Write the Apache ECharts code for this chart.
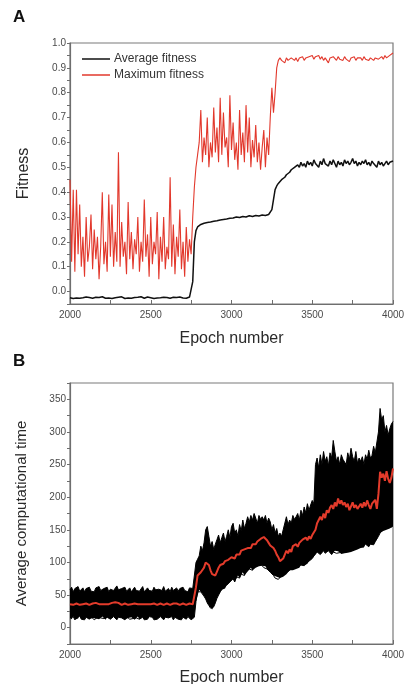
<!DOCTYPE html>
<html>
<head>
<meta charset="utf-8">
<script src="https://cdn.jsdelivr.net/npm/echarts@6/dist/echarts.min.js"></script>
<style>
html,body{margin:0;padding:0;background:#fff;}
#c{width:406px;height:684px;}
</style>
</head>
<body>
<div id="c"></div>
<script>
var epochs = [
2000,2010,2020,2030,2040,2050,2060,2070,2080,2090,
2100,2110,2120,2130,2140,2150,2160,2170,2180,2190,
2200,2210,2220,2230,2240,2250,2260,2270,2280,2290,
2300,2310,2320,2330,2340,2350,2360,2370,2380,2390,
2400,2410,2420,2430,2440,2450,2460,2470,2480,2490,
2500,2510,2520,2530,2540,2550,2560,2570,2580,2590,
2600,2610,2620,2630,2640,2650,2660,2670,2680,2690,
2700,2710,2720,2730,2740,2750,2760,2770,2780,2790,
2800,2810,2820,2830,2840,2850,2860,2870,2880,2890,
2900,2910,2920,2930,2940,2950,2960,2970,2980,2990,
3000,3010,3020,3030,3040,3050,3060,3070,3080,3090,
3100,3110,3120,3130,3140,3150,3160,3170,3180,3190,
3200,3210,3220,3230,3240,3250,3260,3270,3280,3290,
3300,3310,3320,3330,3340,3350,3360,3370,3380,3390,
3400,3410,3420,3430,3440,3450,3460,3470,3480,3490,
3500,3510,3520,3530,3540,3550,3560,3570,3580,3590,
3600,3610,3620,3630,3640,3650,3660,3670,3680,3690,
3700,3710,3720,3730,3740,3750,3760,3770,3780,3790,
3800,3810,3820,3830,3840,3850,3860,3870,3880,3890,
3900,3910,3920,3930,3940,3950,3960,3970,3980,3990,
4000];

var xTicks = [2000, 2500, 3000, 3500, 4000];
var fitnessTicks = [0.0, 0.1, 0.2, 0.3, 0.4, 0.5, 0.6, 0.7, 0.8, 0.9, 1.0];
var timeTicks = [0, 50, 100, 150, 200, 250, 300, 350];

var averageFitness = [
-0.025,-0.022,-0.028,-0.024,-0.026,-0.021,-0.027,-0.023,-0.025,-0.029,
-0.022,-0.026,-0.024,-0.020,-0.027,-0.025,-0.023,-0.028,-0.024,-0.026,
-0.021,-0.025,-0.027,-0.023,-0.026,-0.024,-0.028,-0.022,-0.025,-0.027,
-0.023,-0.026,-0.021,-0.025,-0.028,-0.024,-0.026,-0.022,-0.027,-0.025,
-0.024,-0.028,-0.023,-0.026,-0.021,-0.025,-0.027,-0.024,-0.022,-0.026,
-0.025,-0.023,-0.028,-0.024,-0.026,-0.021,-0.025,-0.027,-0.023,-0.026,
-0.024,-0.022,-0.027,-0.025,-0.023,-0.026,-0.024,-0.028,-0.022,-0.025,
-0.026,-0.023,-0.027,-0.024,-0.022,-0.020,0.040,0.200,0.245,0.260,
0.265,0.270,0.262,0.275,0.268,0.278,0.270,0.280,0.274,0.283,
0.276,0.285,0.279,0.288,0.282,0.290,0.284,0.292,0.287,0.295,
0.289,0.296,0.290,0.300,0.293,0.298,0.291,0.302,0.296,0.300,
0.294,0.305,0.298,0.302,0.296,0.306,0.300,0.304,0.298,0.308,
0.302,0.306,0.300,0.310,0.312,0.330,0.370,0.410,0.425,0.435,
0.440,0.450,0.455,0.460,0.470,0.475,0.480,0.490,0.485,0.500,
0.495,0.510,0.500,0.520,0.505,0.515,0.500,0.525,0.510,0.520,
0.505,0.530,0.515,0.520,0.500,0.525,0.510,0.535,0.515,0.520,
0.505,0.525,0.510,0.530,0.515,0.500,0.525,0.510,0.520,0.505,
0.530,0.515,0.525,0.510,0.520,0.535,0.515,0.525,0.505,0.520,
0.510,0.525,0.515,0.530,0.510,0.520,0.505,0.525,0.515,0.520,
0.500,0.525,0.510,0.520,0.505,0.515,0.525,0.510,0.520,0.515,
0.525];

var maximumFitness = [
0.45,0.12,0.41,0.08,0.41,0.15,0.35,0.10,0.22,0.06,
0.30,0.12,0.18,0.31,0.09,0.25,0.13,0.22,0.05,0.18,
0.40,0.11,0.20,0.08,0.39,0.14,0.35,0.10,0.24,0.12,
0.56,0.10,0.28,0.14,0.20,0.07,0.36,0.13,0.24,0.09,
0.21,0.15,0.30,0.08,0.20,0.12,0.37,0.14,0.23,0.06,
0.30,0.11,0.20,0.15,0.32,0.05,0.22,0.12,0.30,0.09,
0.18,0.13,0.46,0.10,0.27,0.07,0.22,0.14,0.33,0.09,
0.20,0.06,0.26,0.12,0.21,0.15,0.30,0.42,0.50,0.55,
0.60,0.73,0.52,0.62,0.55,0.70,0.50,0.60,0.54,0.74,
0.56,0.66,0.52,0.78,0.55,0.72,0.58,0.62,0.50,0.79,
0.57,0.68,0.53,0.60,0.49,0.73,0.55,0.64,0.52,0.75,
0.56,0.70,0.50,0.61,0.54,0.67,0.52,0.60,0.49,0.58,
0.65,0.50,0.62,0.55,0.70,0.82,0.72,0.80,0.90,0.93,
0.940,0.930,0.935,0.920,0.940,0.930,0.925,0.940,0.935,0.930,
0.940,0.925,0.940,0.935,0.945,0.930,0.940,0.935,0.945,0.940,
0.950,0.935,0.945,0.940,0.950,0.935,0.945,0.930,0.940,0.945,
0.920,0.940,0.935,0.945,0.940,0.930,0.945,0.935,0.940,0.930,
0.945,0.935,0.940,0.925,0.940,0.935,0.945,0.930,0.940,0.935,
0.940,0.930,0.945,0.935,0.940,0.930,0.940,0.935,0.930,0.940,
0.945,0.935,0.940,0.945,0.935,0.950,0.940,0.945,0.950,0.955,
0.960];

var timeMean = [
36,37,35,36,37,36,35,37,36,36,
37,36,35,36,37,36,38,37,36,35,
36,37,36,35,36,37,38,37,39,41,
38,36,35,36,37,36,35,37,36,38,
37,39,36,35,36,37,36,35,36,37,
36,35,37,36,35,36,37,36,35,36,
37,36,35,36,37,36,37,36,35,36,
37,36,35,36,37,38,36,37,62,80,
82,85,88,92,100,102,96,88,82,79,
80,86,92,96,94,98,102,100,104,106,
108,110,106,112,115,112,118,116,120,118,
122,125,122,128,130,128,132,135,136,138,
139,136,134,130,126,128,122,118,112,108,
102,100,106,112,118,114,120,116,125,122,
128,124,130,128,135,132,138,134,140,136,
142,140,150,160,158,170,165,175,168,180,
176,184,188,182,192,186,198,190,195,188,
192,185,190,180,186,192,184,188,182,185,
190,184,192,186,195,188,182,190,192,196,
182,205,239,230,236,225,240,228,222,230,
244];

var timeUpper = [
58,62,55,60,57,63,56,59,61,55,
60,57,62,56,59,55,61,58,63,57,
56,60,58,62,55,59,61,57,60,64,
58,55,60,57,62,56,59,61,55,58,
62,57,60,56,59,63,55,58,61,57,
60,56,62,58,55,59,61,57,63,56,
58,60,55,62,57,59,61,56,60,58,
62,57,59,55,61,58,60,63,100,105,
110,125,118,130,150,155,140,125,132,120,
128,135,142,130,138,145,132,140,150,138,
155,160,145,150,140,158,148,165,152,160,
170,162,172,165,175,168,160,172,166,170,
165,172,160,168,162,150,158,145,152,140,
145,140,150,148,170,158,165,160,172,166,
170,175,165,180,172,185,176,190,180,188,
195,190,250,260,245,265,250,270,255,262,
248,268,260,287,270,255,262,250,265,258,
260,250,268,258,275,262,255,270,252,260,
255,262,250,265,258,272,260,264,278,268,
270,300,336,318,325,300,310,295,305,312,
316];

var timeLower = [
15,13,17,12,16,14,18,13,15,12,
16,14,13,17,15,12,14,16,13,15,
17,14,12,16,15,13,14,17,15,12,
16,13,15,14,12,17,15,13,16,14,
12,15,17,13,14,16,12,15,13,17,
14,16,12,15,13,14,17,15,12,16,
13,15,14,17,12,16,14,13,15,12,
16,14,13,17,15,12,14,16,40,55,
58,55,52,48,44,38,34,30,28,32,
38,45,50,55,58,62,60,65,68,70,
72,75,70,78,80,76,82,85,80,88,
86,90,92,88,95,92,96,94,98,95,
92,94,90,88,85,82,80,76,78,74,
76,80,78,84,82,86,88,90,88,92,
90,94,92,96,98,95,100,98,102,104,
106,110,112,116,114,112,115,118,114,116,
118,115,112,116,118,114,117,115,113,116,
114,117,115,118,116,120,118,122,120,124,
122,125,123,128,126,124,128,130,127,132,
135,140,145,150,148,152,150,155,152,154,
156];

function pairs(xs, ys) { return xs.map(function (x, i) { return [x, ys[i]]; }); }
var bandHeight = timeUpper.map(function (u, i) { return u - timeLower[i]; });

function inList(list, v, eps) {
  for (var i = 0; i < list.length; i++) if (Math.abs(list[i] - v) < eps) return true;
  return false;
}

var FONT = 'Liberation Sans';
var labelStyle = { fontFamily: FONT, fontSize: 10, color: '#4a4a4a' };
var nameStyle = { fontFamily: FONT, fontSize: 16, color: '#2a2a2a' };
var axisLine = { show: true, onZero: false, lineStyle: { color: '#6e6e6e', width: 1.2 } };
var tickLine = { color: '#6e6e6e', width: 1 };

var option = {
  animation: false,
  backgroundColor: '#ffffff',
  textStyle: { fontFamily: FONT },
  graphic: [
    { type: 'text', left: 13, top: 9, style: { text: 'A', font: 'bold 17px "Liberation Sans"', fill: '#111' } },
    { type: 'text', left: 13, top: 353, style: { text: 'B', font: 'bold 17px "Liberation Sans"', fill: '#111' } }
  ],
  legend: {
    data: ['Average fitness', 'Maximum fitness'],
    orient: 'vertical', left: 82, top: 53, itemGap: 4,
    itemWidth: 28, itemHeight: 1.5, icon: 'rect',
    textStyle: { fontFamily: FONT, fontSize: 12, color: '#333', padding: [0, 0, 0, -1] },
    padding: 0
  },
  grid: [
    { left: 70, right: 13, top: 43, height: 261, show: true, borderColor: '#7a7a7a', borderWidth: 1.2, backgroundColor: 'transparent', outerBoundsMode: 'none', containLabel: false },
    { left: 70, right: 13, top: 383, height: 261, show: true, borderColor: '#7a7a7a', borderWidth: 1.2, backgroundColor: 'transparent', outerBoundsMode: 'none', containLabel: false }
  ],
  xAxis: [
    {
      type: 'value', gridIndex: 0, min: 2000, max: 4000, interval: 250,
      name: 'Epoch number', nameLocation: 'middle', nameGap: 27, nameTextStyle: nameStyle,
      axisLine: axisLine,
      axisTick: { show: true, inside: true, length: 4, lineStyle: tickLine },
      axisLabel: Object.assign({ margin: 6, formatter: function (v) { return inList(xTicks, v, 0.5) ? String(v) : ''; } }, labelStyle),
      splitLine: { show: false }
    },
    {
      type: 'category', gridIndex: 1, data: epochs, boundaryGap: false,
      name: 'Epoch number', nameLocation: 'middle', nameGap: 26, nameTextStyle: nameStyle,
      axisLine: axisLine,
      axisTick: { show: true, inside: true, length: 4, interval: 24, lineStyle: tickLine },
      axisLabel: Object.assign({ margin: 6, interval: 49, showMaxLabel: true,
        formatter: function (v) { return inList(xTicks, Number(v), 0.5) ? String(v) : ''; } }, labelStyle),
      splitLine: { show: false }
    }
  ],
  yAxis: [
    {
      type: 'value', gridIndex: 0, min: -0.05, max: 1.0, interval: 0.05,
      name: 'Fitness', nameLocation: 'middle', nameGap: 38, nameTextStyle: nameStyle,
      axisLine: axisLine,
      axisTick: { show: true, inside: false, length: 3, lineStyle: tickLine },
      axisLabel: Object.assign({ margin: 4, formatter: function (v) { return inList(fitnessTicks, v, 1e-6) ? v.toFixed(1) : ''; } }, labelStyle),
      splitLine: { show: false }
    },
    {
      type: 'value', gridIndex: 1, min: -25, max: 375, interval: 25,
      name: 'Average computational time', nameLocation: 'middle', nameGap: 41, nameTextStyle: Object.assign({}, nameStyle, { fontSize: 15 }),
      axisLine: axisLine,
      axisTick: { show: true, inside: false, length: 3, lineStyle: tickLine },
      axisLabel: Object.assign({ margin: 4, formatter: function (v) { return inList(timeTicks, v, 1e-6) ? String(v) : ''; } }, labelStyle),
      splitLine: { show: false }
    }
  ],
  series: [
    {
      name: 'Average fitness', type: 'line', xAxisIndex: 0, yAxisIndex: 0,
      data: pairs(epochs, averageFitness), showSymbol: false, symbol: 'none',
      itemStyle: { color: '#111111' }, lineStyle: { color: '#111111', width: 1.5 }, z: 3
    },
    {
      name: 'Maximum fitness', type: 'line', xAxisIndex: 0, yAxisIndex: 0,
      data: pairs(epochs, maximumFitness), showSymbol: false, symbol: 'none',
      itemStyle: { color: '#e2382c' }, lineStyle: { color: '#e2382c', width: 1.1 }, z: 2
    },
    {
      name: 'lower', type: 'line', xAxisIndex: 1, yAxisIndex: 1, stack: 'band',
      data: timeLower, showSymbol: false, symbol: 'none',
      lineStyle: { color: '#000', width: 1 }, z: 2
    },
    {
      name: 'band', type: 'line', xAxisIndex: 1, yAxisIndex: 1, stack: 'band',
      data: bandHeight, showSymbol: false, symbol: 'none',
      lineStyle: { color: '#000', width: 1 }, areaStyle: { color: '#000', opacity: 1 }, z: 2
    },
    {
      name: 'mean time', type: 'line', xAxisIndex: 1, yAxisIndex: 1,
      data: timeMean, showSymbol: false, symbol: 'none',
      lineStyle: { color: '#e33b2b', width: 2 }, z: 4
    }
  ]
};

var chart = echarts.init(document.getElementById('c'), null, { renderer: 'canvas' });
chart.setOption(option);
</script>
</body>
</html>
